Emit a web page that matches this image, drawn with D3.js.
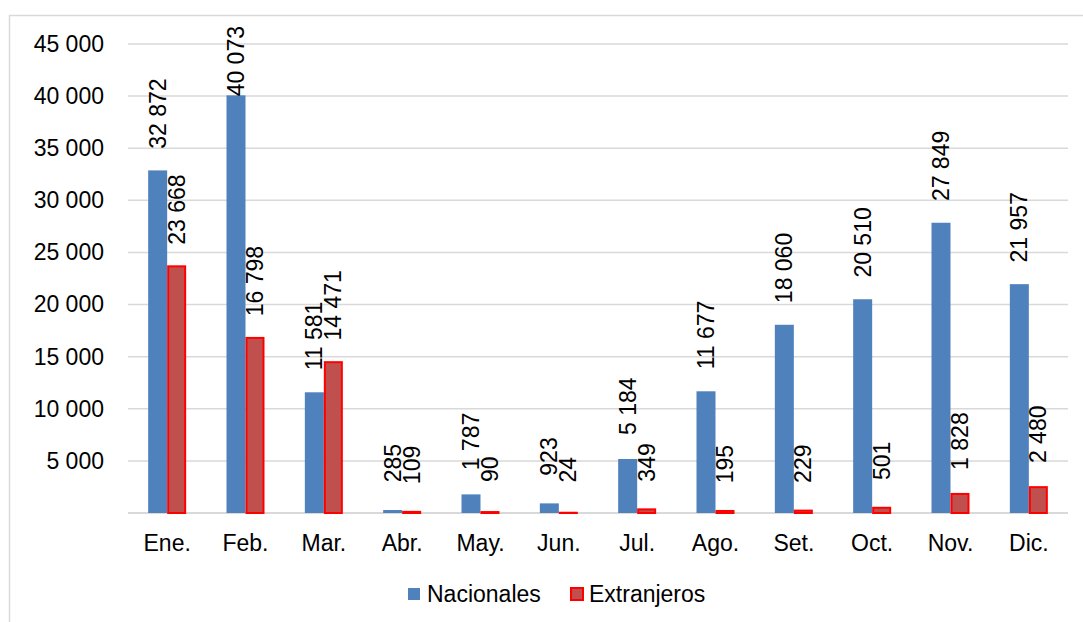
<!DOCTYPE html>
<html>
<head>
<meta charset="utf-8">
<script src="https://cdn.jsdelivr.net/npm/d3@7"></script>
<style>
    body { margin: 0; background: #fff; }
    text { font-family: "Liberation Sans", Arial, sans-serif; fill: #000; }
</style>
</head>
<body>
<svg id="chart" width="1083" height="622"></svg>
<script>
let months = ['Ene.', 'Feb.', 'Mar.', 'Abr.', 'May.', 'Jun.', 'Jul.', 'Ago.', 'Set.', 'Oct.', 'Nov.', 'Dic.']
let series = ['Nacionales', 'Extranjeros']
let nacionales = [32872, 40073, 11581, 285, 1787, 923, 5184, 11677, 18060, 20510, 27849, 21957]
let extranjeros = [23668, 16798, 14471, 109, 90, 24, 349, 195, 229, 501, 1828, 2480]
let y_ticks = [5000, 10000, 15000, 20000, 25000, 30000, 35000, 40000, 45000]

let x_l = 128
let x_r = 1068
let y_b = 513
let y_t = 44
let font_size = 23
let grid_color = '#d9d9d9'

let fill = {'Nacionales': '#4f81bd', 'Extranjeros': '#c0504d'}

function fmt(v) {
    // thousands separated by a plain space, like the source
    return d3.format(',')(v).replace(/,/g, ' ')
}

let svg = d3.select('#chart')

svg.append('rect')
    .attr('width', 1083).attr('height', 622)
    .attr('fill', '#fff')

// outer frame of the chart area
svg.append('rect')
    .attr('x', 9.5).attr('y', 15.5)
    .attr('width', 1200).attr('height', 700)
    .attr('fill', 'none')
    .attr('stroke', grid_color)
    .attr('stroke-width', 1.5)

let x = d3.scaleBand()
    .domain(months)
    .range([x_l, x_r])
    .paddingInner(0.515)
    .paddingOuter(0.2575)

let x1 = d3.scaleBand()
    .domain(series)
    .range([0, x.bandwidth()])

let y = d3.scaleLinear()
    .domain([0, 45000])
    .range([y_b, y_t])

// gridlines + baseline
svg.append('g')
    .selectAll('line')
    .data([0].concat(y_ticks))
    .join('line')
    .attr('x1', x_l).attr('x2', x_r)
    .attr('y1', d => y(d)).attr('y2', d => y(d))
    .attr('stroke', grid_color)
    .attr('stroke-width', d => d === 0 ? 2 : 1.5)

// y axis labels
let yAxis = d3.axisLeft(y)
    .tickValues(y_ticks)
    .tickFormat(fmt)
    .tickSize(0)
    .tickPadding(0)

svg.append('g')
    .attr('transform', 'translate(104,0)')
    .call(yAxis)
    .call(g => g.select('.domain').remove())
    .selectAll('text')
    .style('font-size', font_size + 'px')
    .attr('font-family', null)

// x axis labels
let xAxis = d3.axisBottom(x)
    .tickSize(0)
    .tickPadding(0)

svg.append('g')
    .attr('transform', `translate(0,${y_b + 22})`)
    .call(xAxis)
    .call(g => g.select('.domain').remove())
    .selectAll('text')
    .attr('dy', '0.71em')
    .style('font-size', font_size + 'px')
    .attr('font-family', null)

let rows = months.map((m, i) => ({
    month: m,
    values: [
        {key: 'Nacionales', value: nacionales[i]},
        {key: 'Extranjeros', value: extranjeros[i]}
    ]
}))

let groups = svg.append('g')
    .selectAll('g')
    .data(rows)
    .join('g')
    .attr('transform', d => `translate(${x(d.month)},0)`)

groups.selectAll('rect')
    .data(d => d.values)
    .join('rect')
    .attr('x', d => x1(d.key) + (d.key === 'Extranjeros' ? 1 : 0))
    .attr('width', d => x1.bandwidth() - (d.key === 'Extranjeros' ? 2 : 0))
    .attr('y', d => y(d.value))
    .attr('height', d => y_b - y(d.value))
    .attr('fill', d => fill[d.key])
    .attr('stroke', d => d.key === 'Extranjeros' ? '#ff0000' : 'none')
    .attr('stroke-width', 2)

// value labels, rotated, above each bar
groups.selectAll('text.value')
    .data(d => d.values)
    .join('text')
    .classed('value', true)
    .style('font-size', font_size + 'px')
    .attr('dy', '0.35em')
    .text(d => fmt(d.value))
    .each(function(d) {
        let len = this.getComputedTextLength()
        let gap = 35 - len * 0.19
        let pos = y(d.value) - gap
        if (pos - len < 26)
            pos = 26 + len
        let cx = x1(d.key) + x1.bandwidth() / 2
        d3.select(this).attr('transform', `translate(${cx},${pos}) rotate(-90)`)
    })

// legend
let legend = svg.append('g')
    .attr('transform', 'translate(408,594)')

let lx = [0, 162]
series.forEach((s, i) => {
    legend.append('rect')
        .attr('x', lx[i] + (i === 1 ? 1 : 0))
        .attr('y', -6 + (i === 1 ? 0 : 0))
        .attr('width', i === 1 ? 12 : 12)
        .attr('height', 12)
        .attr('fill', fill[s])
        .attr('stroke', i === 1 ? '#ff0000' : 'none')
        .attr('stroke-width', 2)
    legend.append('text')
        .attr('x', lx[i] + 19)
        .attr('dy', '0.35em')
        .style('font-size', font_size + 'px')
        .text(s)
})
</script>
</body>
</html>
